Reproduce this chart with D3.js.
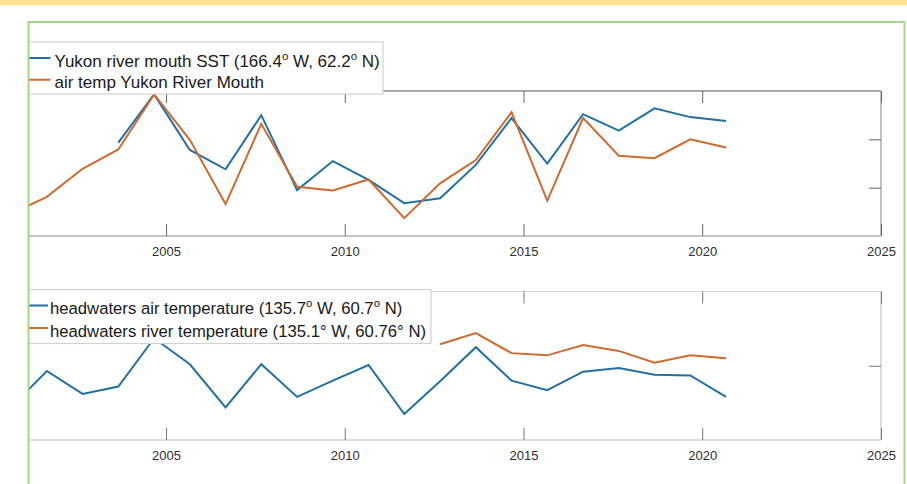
<!DOCTYPE html>
<html>
<head>
<meta charset="utf-8">
<script src="https://cdn.jsdelivr.net/npm/d3@7"></script>
<style>
  body { margin: 0; background: #fff; }
  svg { display: block; }
  text { font-family: "Liberation Sans", Arial, Helvetica, sans-serif; }
</style>
</head>
<body>
<svg id="chart" width="907" height="484"></svg>
<script>
// Annual values, one per year (plotted at 1 September of each year)
const years = [2000, 2001, 2002, 2003, 2004, 2005, 2006, 2007, 2008, 2009, 2010,
               2011, 2012, 2013, 2014, 2015, 2016, 2017, 2018, 2019, 2020];

// Yukon river mouth
const mouthSST = [null, null, null, 1.93, 2.93, 1.78, 1.38, 2.50, 0.95, 1.55, 1.16,
                  0.68, 0.78, 1.47, 2.44, 1.50, 2.52, 2.18, 2.64, 2.46, 2.38];
const mouthAir = [0.46, 0.81, 1.39, 1.79, 2.93, 1.99, 0.66, 2.32, 1.02, 0.94, 1.17,
                  0.37, 1.09, 1.57, 2.56, 0.73, 2.44, 1.66, 1.61, 2.00, 1.83];

// Headwaters
const headAir   = [0.44, 0.93, 0.62, 0.72, 1.37, 1.02, 0.44, 1.02, 0.58, 0.80, 1.01,
                   0.35, 0.79, 1.25, 0.80, 0.67, 0.92, 0.97, 0.88, 0.87, 0.58];
const headRiver = [null, null, null, null, null, null, null, null, null, null, null,
                   null, 1.29, 1.44, 1.17, 1.14, 1.28, 1.20, 1.04, 1.14, 1.10];

const xTickYears = [2005, 2010, 2015, 2020, 2025];

// legend entries: text pieces, superscript pieces flagged
const legendTop = [
  { color: "#2270a4", parts: [["Yukon river mouth SST (166.4"], ["o", true], [" W, 62.2"], ["o", true], [" N)"]] },
  { color: "#cf6a30", parts: [["air temp Yukon River Mouth"]] }
];
const legendBottom = [
  { color: "#2270a4", parts: [["headwaters air temperature (135.7"], ["o", true], [" W, 60.7"], ["o", true], [" N)"]] },
  { color: "#cf6a30", parts: [["headwaters river temperature (135.1° W, 60.76° N)"]] }
];

const BLUE = "#2270a4", ORANGE = "#cf6a30";

const svg = d3.select("#chart");

// page decoration: yellow band and green frame
svg.append("rect").attr("x", 0).attr("y", 0).attr("width", 907).attr("height", 5.5).attr("fill", "#fde491");
svg.append("rect").attr("x", 0).attr("y", 5.5).attr("width", 907).attr("height", 479).attr("fill", "#fff");

const defs = svg.append("defs");
defs.append("clipPath").attr("id", "frame")
  .append("rect").attr("x", 29).attr("y", 23).attr("width", 875).attr("height", 470);

const frame = svg.append("g").attr("clip-path", "url(#frame)");

const plotRight = 881;
const pxPerYear = 35.75;
const x = d3.scaleTime()
  .domain([new Date(2000, 0, 1), new Date(2025, 0, 1)])
  .range([plotRight - 25 * pxPerYear, plotRight]);

const dateOf = y => new Date(y, 8, 1);

function panel(cfg) {
  const g = frame.append("g");
  const y = d3.scaleLinear().domain(cfg.domain).range([cfg.bottom, cfg.top]);
  const left = x.range()[0];

  // box
  g.append("line").attr("x1", left).attr("x2", plotRight).attr("y1", cfg.top).attr("y2", cfg.top)
    .attr("stroke", cfg.topColor).attr("stroke-width", 1.2);
  g.append("line").attr("x1", left).attr("x2", plotRight).attr("y1", cfg.bottom).attr("y2", cfg.bottom)
    .attr("stroke", cfg.boxColor).attr("stroke-width", 1.6);
  g.append("line").attr("x1", plotRight).attr("x2", plotRight).attr("y1", cfg.top).attr("y2", cfg.bottom)
    .attr("stroke", cfg.boxColor).attr("stroke-width", 1.6);

  const tickVals = xTickYears.map(v => new Date(v, 0, 1));

  const bottomAxis = d3.axisBottom(x).tickValues(tickVals)
    .tickSizeInner(-12).tickSizeOuter(0).tickPadding(10.5)
    .tickFormat(d3.timeFormat("%Y"));
  const ga = g.append("g").attr("transform", `translate(0,${cfg.bottom})`).call(bottomAxis);
  ga.select(".domain").remove();
  ga.selectAll(".tick line").attr("stroke", cfg.tickColor);
  ga.selectAll(".tick text").attr("fill", "#2e2e2e").style("font-size", "13px")
    .style("font-family", "'Liberation Sans', Arial, sans-serif");

  const topAxis = d3.axisTop(x).tickValues(tickVals)
    .tickSizeInner(-12).tickSizeOuter(0).tickFormat("");
  const gt = g.append("g").attr("transform", `translate(0,${cfg.top})`).call(topAxis);
  gt.select(".domain").remove();
  gt.selectAll(".tick line").attr("stroke", cfg.tickColor);

  const rightAxis = d3.axisRight(y).tickValues(cfg.yTicks)
    .tickSizeInner(-12).tickSizeOuter(0).tickFormat("");
  const gr = g.append("g").attr("transform", `translate(${plotRight},0)`).call(rightAxis);
  gr.select(".domain").remove();
  gr.selectAll(".tick line").attr("stroke", cfg.tickColor);

  // series
  const line = d3.line()
    .defined(d => d.v != null)
    .x(d => x(dateOf(d.year)))
    .y(d => y(d.v));
  cfg.series.forEach(s => {
    const pts = years.map((yr, i) => ({ year: yr, v: s.values[i] }));
    g.append("path").datum(pts).attr("d", line)
      .attr("fill", "none").attr("stroke", s.color)
      .attr("stroke-width", 2).attr("stroke-linejoin", "miter");
  });

  // legend
  const lg = g.append("g");
  lg.append("rect")
    .attr("x", 10).attr("y", cfg.legend.y)
    .attr("width", cfg.legend.right - 10).attr("height", cfg.legend.h)
    .attr("fill", "#fff").attr("stroke", "#d2d2d2").attr("stroke-width", 1.2);
  cfg.legend.items.forEach((it, i) => {
    const base = cfg.legend.y + cfg.legend.firstBase + i * cfg.legend.step;
    lg.append("line")
      .attr("x1", 10).attr("x2", cfg.legend.lineEnd)
      .attr("y1", base - 8.5).attr("y2", base - 8.5)
      .attr("stroke", it.color).attr("stroke-width", 2);
    const t = lg.append("text")
      .attr("x", cfg.legend.textX).attr("y", base)
      .attr("fill", "#1a1a1a").style("font-size", cfg.legend.fontSize + "px");
    const rise = 7;
    let raised = false;
    it.parts.forEach(([s, sup]) => {
      const ts = t.append("tspan").text(s);
      if (sup) {
        ts.attr("dy", -rise).style("font-size", "11.5px");
        raised = true;
      } else if (raised) {
        ts.attr("dy", rise);
        raised = false;
      }
    });
  });
}

panel({
  top: 91, bottom: 236, domain: [0, 3], yTicks: [1, 2],
  topColor: "#555", boxColor: "#b4b4b4", tickColor: "#666",
  series: [
    { values: mouthSST, color: BLUE },
    { values: mouthAir, color: ORANGE }
  ],
  legend: { y: 42, h: 52, right: 383, lineEnd: 50.5, textX: 54.5, firstBase: 24.5, step: 21.8,
            fontSize: 17, items: legendTop }
});

panel({
  top: 291.5, bottom: 440, domain: [0, 2], yTicks: [1],
  topColor: "#d4d4d4", boxColor: "#d4d4d4", tickColor: "#777",
  series: [
    { values: headAir, color: BLUE },
    { values: headRiver, color: ORANGE }
  ],
  legend: { y: 289.5, h: 54, right: 431, lineEnd: 48, textX: 50, firstBase: 24.5, step: 22.5,
            fontSize: 16.7, items: legendBottom }
});

// green frame drawn last
svg.append("rect")
  .attr("x", 28.5).attr("y", 22).attr("width", 876).attr("height", 500)
  .attr("fill", "none").attr("stroke", "#a6d68c").attr("stroke-width", 2);
</script>
</body>
</html>
